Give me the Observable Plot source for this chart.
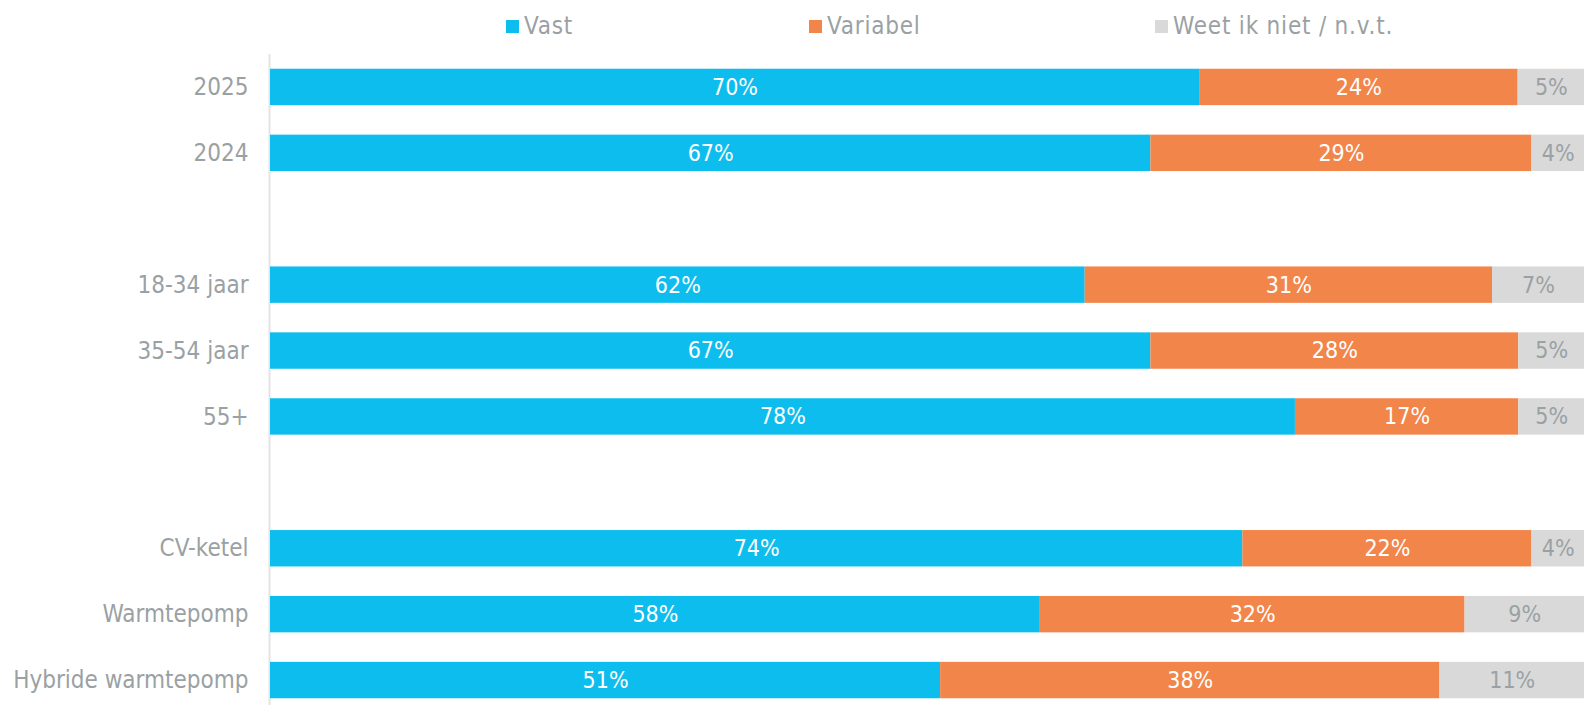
<!DOCTYPE html>
<html>
<head>
<meta charset="utf-8">
<script src="https://cdn.jsdelivr.net/npm/d3@7"></script>
<script src="https://cdn.jsdelivr.net/npm/@observablehq/plot@0.6"></script>
<style>
  html, body { margin: 0; padding: 0; background: #fff; }
  body { width: 1584px; height: 705px; position: relative; overflow: hidden;
         font-family: "DejaVu Sans Condensed", "DejaVu Sans", sans-serif; font-stretch: condensed; }
  #legend { position: relative; height: 45px; }
  .sw { position: absolute; top: 20px; width: 13px; height: 13px; }
  .lt { position: absolute; top: 13px; font-size: 24px; line-height: 26px; color: #9aa1a4; letter-spacing: 0.8px; }
</style>
</head>
<body>
<div id="legend"></div>
<div id="chart"></div>
<script>
const rows = ["2025", "2024", "18-34 jaar", "35-54 jaar", "55+", "CV-ketel", "Warmtepomp", "Hybride warmtepomp"];
const rowOrder = ["2025", "2024", "gap1", "18-34 jaar", "35-54 jaar", "55+", "gap2", "CV-ketel", "Warmtepomp", "Hybride warmtepomp"];
const seriesNames = ["Vast", "Variabel", "Weet ik niet / n.v.t."];
const colors = ["#0dbdee", "#f2854a", "#d9d9d9"];
const labelColors = ["#ffffff", "#ffffff", "#9aa1a4"];
const vast = [70, 67, 62, 67, 78, 74, 58, 51];
const variabel = [24, 29, 31, 28, 17, 22, 32, 38];
const weet = [5, 4, 7, 5, 5, 4, 9, 11];

const seriesValues = [vast, variabel, weet];
const data = [];
rows.forEach((r, i) => {
  seriesNames.forEach((s, j) => {
    data.push({row: r, series: s, value: seriesValues[j][i], label: labelColors[j]});
  });
});

// Legend
const legend = document.getElementById("legend");
const legendX = [506, 809, 1155];
seriesNames.forEach((s, j) => {
  const sw = document.createElement("div");
  sw.className = "sw";
  sw.style.left = legendX[j] + "px";
  sw.style.background = colors[j];
  legend.appendChild(sw);
  const t = document.createElement("div");
  t.className = "lt";
  t.style.left = (legendX[j] + 18) + "px";
  t.textContent = s;
  legend.appendChild(t);
});

const chart = Plot.plot({
  width: 1584,
  height: 668,
  marginLeft: 270,
  marginRight: 0,
  marginTop: 9,
  marginBottom: 0,
  style: {fontFamily: "'DejaVu Sans Condensed', 'DejaVu Sans', sans-serif", fontSize: "24px", color: "#9aa1a4", background: "#fff"},
  x: {axis: null, domain: [0, 1]},
  y: {domain: rowOrder, padding: 0, round: false, tickSize: 0, tickPadding: 22, label: null,
      tickFormat: d => d.startsWith("gap") ? "" : d},
  color: {domain: seriesNames, range: colors},
  marks: [
    Plot.ruleX([0], {stroke: "#e4e4e4", strokeWidth: 2, dx: -1}),
    Plot.barX(data, Plot.stackX({x: "value", y: "row", fill: "series", order: seriesNames, offset: "normalize", insetTop: 14.75, insetBottom: 14.75})),
    Plot.text(data, Plot.stackX({x: "value", y: "row", z: "series", order: seriesNames, offset: "normalize",
      text: d => d.value + "%", fill: "label", fontSize: 23}))
  ]
});
document.getElementById("chart").appendChild(chart);
</script>
</body>
</html>
